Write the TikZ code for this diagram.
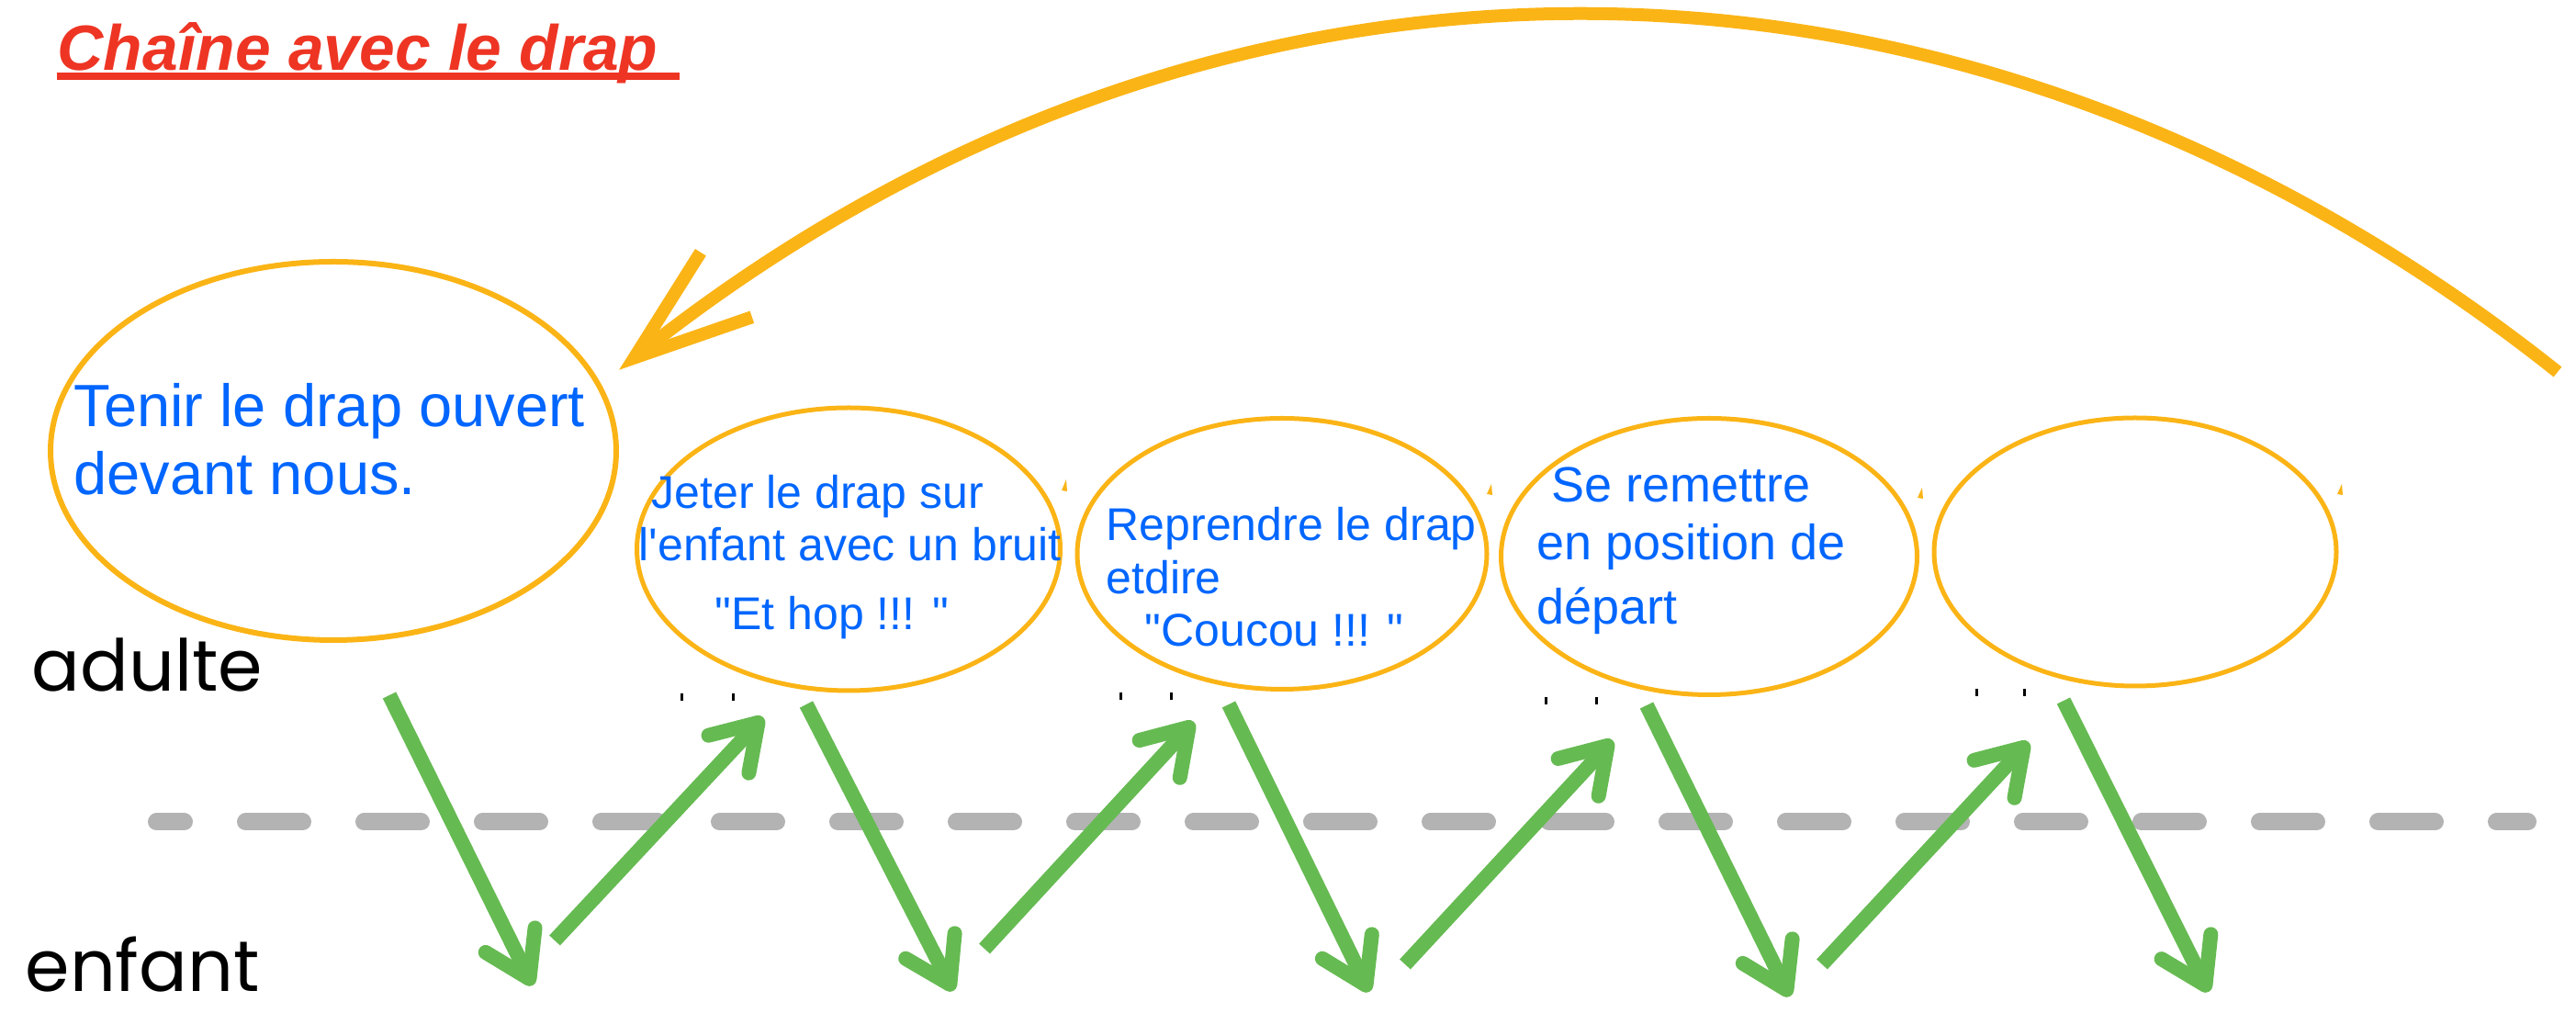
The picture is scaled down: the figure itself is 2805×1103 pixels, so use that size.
\documentclass[tikz,border=0pt]{standalone}
\usepackage{fontspec}
\setmainfont{Liberation Sans}
\newfontfamily\lanefont{Poppins}
\usepackage{tikz}
\usetikzlibrary{arrows.meta}
\usetikzlibrary{calc}
\usetikzlibrary{positioning}
\usetikzlibrary{shapes.geometric}
\usepackage{xcolor}
\definecolor{titlered}{RGB}{238,53,36}
\definecolor{drapblue}{RGB}{0,102,255}
\definecolor{ringorange}{RGB}{251,180,22}
\definecolor{stepgreen}{RGB}{102,186,82}
\definecolor{lanegray}{RGB}{179,179,179}
\tikzset{
bubble/.style={draw=ringorange,
  ellipse,
    line width=0.5mm,
    inner sep=0pt},
btext/.style={text=drapblue,
  align=left,
    inner sep=0pt,
    anchor=north west},
}
\tikzset{flow/.style={draw=stepgreen, line width=1.6mm, -{Straight Barb[length=4.7mm,width=6mm,round]}}}
\tikzset{back/.style={draw=ringorange, line width=1.4mm, -{Straight Barb[length=12.8mm,width=9mm]}}}
\tikzset{lane/.style={draw=lanegray, line width=1.9mm, line cap=round, dash pattern=on 6.2mm off 6.7mm, dash phase=3.2mm}}
\tikzset{who/.style={anchor=base west, inner sep=0pt, font=\lanefont\fontsize{7.8mm}{9mm}\selectfont}}

\begin{document}
\begin{tikzpicture}[x=0.1mm, y=-0.1mm]
    \useasboundingbox (0,0) rectangle (2805,1103);
    \fill [white] (0,0) rectangle (2805,1103);

    \node [anchor=base west, inner sep=0pt, text=titlered, font=\fontsize{6.96mm}{8mm}\selectfont\bfseries\itshape] (title) at (62,77) {Chaîne avec le drap};
    \draw [titlered, line width=0.8mm] ($(title.base west)+(0,6)$) -- ++(678,0);

    \node [who] (adulte) at (34,753) {adulte};
    \node [who] (enfant) at (27,1080) {enfant};

    \node [bubble, line width=0.6mm, minimum width=61.6mm, minimum height=41.2mm] (e1) at (363,491) {};
    \node [bubble, minimum width=46.1mm, minimum height=30.8mm] (e2) at (924,598) {};
    \node [bubble, minimum width=44.6mm, minimum height=29.5mm] (e3) at (1396,603) {};
    \node [bubble, minimum width=45.3mm, minimum height=30.1mm] (e4) at (1861,606) {};
    \node [bubble, minimum width=43.8mm, minimum height=29.2mm] (e5) at (2325,601) {};

    \node [btext, font=\fontsize{6.5mm}{7.4mm}\selectfont] (t1) at (80,417) {Tenir le drap ouvert\\devant nous.};
    \node [btext, font=\fontsize{5mm}{5.7mm}\selectfont] (t2) at (695,517) {\hspace*{1.4mm}Jeter le drap sur\\l\textquotesingle enfant avec un bruit\\[1.8mm]\hspace*{8.3mm}\textquotedbl Et hop !!! \textquotedbl};
    \node [btext, font=\fontsize{5mm}{5.75mm}\selectfont] (t3) at (1204,552) {Reprendre le drap\\etdire\\\hspace*{4.2mm}\textquotedbl Coucou !!! \textquotedbl};
    \node [btext, font=\fontsize{5.4mm}{6.3mm}\selectfont] (t4) at (1673,508) {\hspace*{1.6mm}Se remettre\\en position de\\[0.7mm]départ};

    % little marks left over round the bubbles
    \fill [ringorange] (1156,534) -- (1161,522) -- (1162,535) -- cycle;
    \fill [ringorange] (1619,538) -- (1624,527) -- (1625,539) -- cycle;
    \fill [ringorange] (2088,542) -- (2093,531) -- (2094,543) -- cycle;
    \fill [ringorange] (2545,538) -- (2550,527) -- (2551,539) -- cycle;
    \draw [black, line width=0.3mm] (742,755) -- ++(0,8) (798,755) -- ++(0,8)
        (1220,754) -- ++(0,8) (1275,754) -- ++(0,8)
        (1683,759) -- ++(0,8) (1738,759) -- ++(0,8)
        (2152,750) -- ++(0,8) (2204,750) -- ++(0,8);

    \draw [lane] (170.5,895) -- (2752.5,895);

    \coordinate (ad1) at (424,757);
    \coordinate (en1) at (580,1073);
    \coordinate (enu1) at (604,1024);
    \coordinate (adu1) at (831,781);
    \coordinate (ad2) at (878,767);
    \coordinate (en2) at (1038,1079);
    \coordinate (enu2) at (1072,1033);
    \coordinate (adu2) at (1300,786);
    \coordinate (ad3) at (1338,767);
    \coordinate (en3) at (1491,1080);
    \coordinate (enu3) at (1530,1050);
    \coordinate (adu3) at (1756,806);
    \coordinate (ad4) at (1793,768);
    \coordinate (en4) at (1949,1085);
    \coordinate (enu4) at (1984,1050);
    \coordinate (adu4) at (2209,808);
    \coordinate (ad5) at (2247,763);
    \coordinate (en5) at (2405,1080);

  \draw [flow] (ad1) -- (en1);
  \draw [flow] (enu1) -- (adu1);
  \draw [flow] (ad2) -- (en2);
  \draw [flow] (enu2) -- (adu2);
  \draw [flow] (ad3) -- (en3);
  \draw [flow] (enu3) -- (adu3);
  \draw [flow] (ad4) -- (en4);
  \draw [flow] (enu4) -- (adu4);
  \draw [flow] (ad5) -- (en5);

    \coordinate (loop) at (2785,405);
  \draw [back, shorten >=2.5mm] (loop) .. controls (2135,-112) and (1322,-112) .. (e1.14);
  \end{tikzpicture}
\end{document}
